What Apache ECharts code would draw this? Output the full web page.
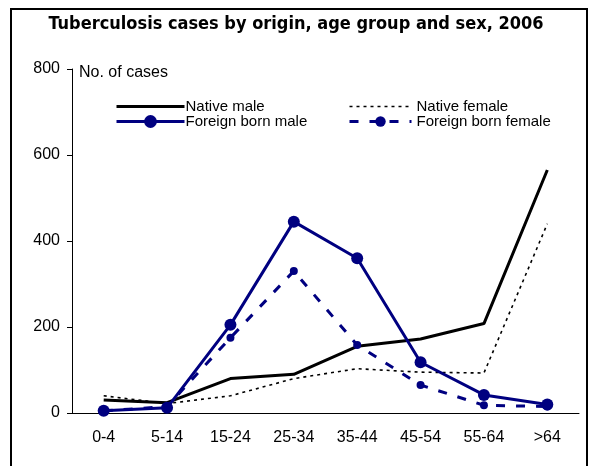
<!DOCTYPE html>
<html><head><meta charset="utf-8">
<script src="https://cdn.jsdelivr.net/npm/echarts@6/dist/echarts.min.js"></script>
<style>html,body{margin:0;padding:0;background:#fff}#c{width:592px;height:466px}</style>
</head><body><div id="c"></div>
<script>
var categories = ['0-4','5-14','15-24','25-34','35-44','45-54','55-64','>64'];
var nativeMale = [30, 24, 80, 90, 155, 172, 208, 565];
var nativeFemale = [40, 22, 40, 80, 103, 95, 93, 440];
var foreignMale = [5, 12, 205, 445, 360, 118, 42, 20];
var foreignFemale = [5, 15, 175, 330, 158, 65, 18, 15];
var yTicks = [0, 200, 400, 600, 800];

var navy = '#000080';
var font = 'Liberation Sans, Arial';
var hidden = {color: 'rgba(0,0,0,0)', borderColor: 'rgba(0,0,0,0)', borderWidth: 0};
var chart = echarts.init(document.getElementById('c'));
chart.setOption({
  animation: false,
  title: {
    text: 'Tuberculosis cases by origin, age group and sex, 2006',
    left: 'center', top: 10,
    textStyle: {fontFamily: 'DejaVu Sans Condensed, DejaVu Sans', fontWeight: 'bold', fontSize: 18, color: '#000'}
  },
  graphic: [{
    type: 'rect', shape: {x: 11, y: 9, width: 576, height: 480},
    style: {fill: 'none', stroke: '#000', lineWidth: 2}, silent: true
  }],
  legend: [{
    orient: 'vertical', left: 110, top: 94, itemGap: 0,
    itemWidth: 68, itemHeight: 16,
    textStyle: {fontFamily: font, fontSize: 15, color: '#000', padding: [0,0,0,-4]},
    data: [
      {name: 'Native male', itemStyle: hidden, lineStyle: {width: 3, color: '#000'}},
      {name: 'Foreign born male', lineStyle: {width: 3, color: navy}}
    ]
  }, {
    orient: 'vertical', left: 343, top: 94, itemGap: 0,
    itemWidth: 62, itemHeight: 13,
    textStyle: {fontFamily: font, fontSize: 15, color: '#000', padding: [0,0,0,0]},
    data: [
      {name: 'Native female', itemStyle: hidden, lineStyle: {width: 1.6, color: '#000', type: [3, 4]}},
      {name: 'Foreign born female', lineStyle: {width: 3, color: navy, type: [9, 11]}}
    ]
  }],
  grid: {left: 72, right: 13, top: 69, bottom: 53},
  xAxis: {
    type: 'category', data: categories, boundaryGap: true,
    axisLine: {lineStyle: {color: '#000', width: 1}},
    axisTick: {alignWithLabel: false, length: 5, lineStyle: {color: '#000'}},
    axisLabel: {fontFamily: font, fontSize: 16, color: '#000', margin: 17}
  },
  yAxis: {
    type: 'value', min: yTicks[0], max: yTicks[yTicks.length-1], interval: 200,
    name: 'No. of cases', nameLocation: 'end', nameGap: 0,
    nameTextStyle: {fontFamily: font, fontSize: 16, color: '#000', align: 'left', padding: [0,0,-12,7]},
    axisLine: {show: true, lineStyle: {color: '#000', width: 1}},
    axisTick: {show: true, length: 5, lineStyle: {color: '#000'}},
    axisLabel: {fontFamily: font, fontSize: 16, color: '#000', margin: 12},
    splitLine: {show: false}
  },
  series: [{
    name: 'Native male', type: 'line', data: nativeMale, symbol: 'none',
    lineStyle: {color: '#000', width: 3}, itemStyle: {color: '#000'}, z: 2
  }, {
    name: 'Native female', type: 'line', data: nativeFemale, symbol: 'none',
    lineStyle: {color: '#000', width: 1.6, type: [3, 4]}, itemStyle: {color: '#000'}, z: 1
  }, {
    name: 'Foreign born male', type: 'line', data: foreignMale, symbol: 'circle', symbolSize: 12,
    lineStyle: {color: navy, width: 3}, itemStyle: {color: navy}, z: 4
  }, {
    name: 'Foreign born female', type: 'line', data: foreignFemale, symbol: 'circle', symbolSize: 8,
    lineStyle: {color: navy, width: 3, type: [9, 11]}, itemStyle: {color: navy}, z: 3
  }]
});
</script></body></html>
